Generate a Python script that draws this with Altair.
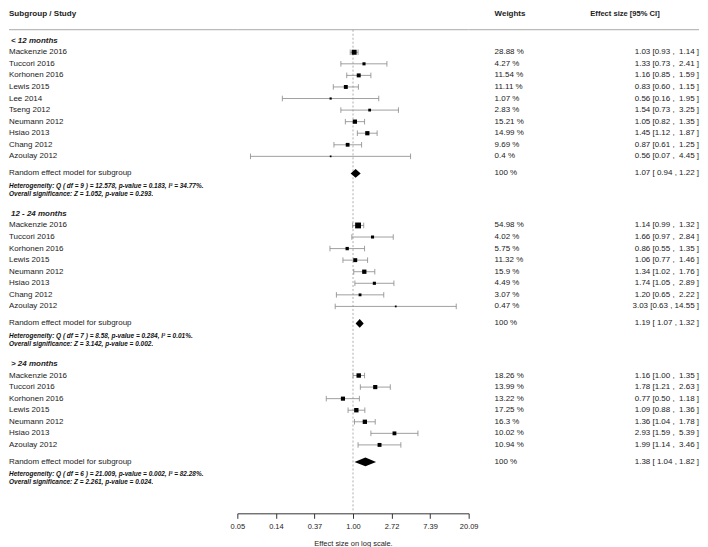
import math
import altair as alt
import pandas as pd

# ---------------- data ----------------
groups = ["< 12 months", "12 - 24 months", "> 24 months"]

studies_g1 = ["Mackenzie 2016", "Tuccori 2016", "Korhonen 2016", "Lewis 2015", "Lee 2014",
              "Tseng 2012", "Neumann 2012", "Hsiao 2013", "Chang 2012", "Azoulay 2012"]
est_g1 = [1.03, 1.33, 1.16, 0.83, 0.56, 1.54, 1.05, 1.45, 0.87, 0.56]
lo_g1 = [0.93, 0.73, 0.85, 0.60, 0.16, 0.73, 0.82, 1.12, 0.61, 0.07]
hi_g1 = [1.14, 2.41, 1.59, 1.15, 1.95, 3.25, 1.35, 1.87, 1.25, 4.45]
w_g1 = [28.88, 4.27, 11.54, 11.11, 1.07, 2.83, 15.21, 14.99, 9.69, 0.4]

studies_g2 = ["Mackenzie 2016", "Tuccori 2016", "Korhonen 2016", "Lewis 2015",
              "Neumann 2012", "Hsiao 2013", "Chang 2012", "Azoulay 2012"]
est_g2 = [1.14, 1.66, 0.86, 1.06, 1.34, 1.74, 1.20, 3.03]
lo_g2 = [0.99, 0.97, 0.55, 0.77, 1.02, 1.05, 0.65, 0.63]
hi_g2 = [1.32, 2.84, 1.35, 1.46, 1.76, 2.89, 2.22, 14.55]
w_g2 = [54.98, 4.02, 5.75, 11.32, 15.9, 4.49, 3.07, 0.47]

studies_g3 = ["Mackenzie 2016", "Tuccori 2016", "Korhonen 2016", "Lewis 2015",
              "Neumann 2012", "Hsiao 2013", "Azoulay 2012"]
est_g3 = [1.16, 1.78, 0.77, 1.09, 1.36, 2.93, 1.99]
lo_g3 = [1.00, 1.21, 0.50, 0.88, 1.04, 1.59, 1.14]
hi_g3 = [1.35, 2.63, 1.18, 1.36, 1.78, 5.39, 3.46]
w_g3 = [18.26, 13.99, 13.22, 17.25, 16.3, 10.02, 10.94]

re_est = [1.07, 1.19, 1.38]
re_lo = [0.94, 1.07, 1.04]
re_hi = [1.22, 1.32, 1.82]
re_label = "Random effect model for subgroup"
re_weight = "100 %"

het_text = [
    "Heterogeneity: Q ( df = 9 ) = 12.578, p-value = 0.183, I\u00b2 = 34.77%.",
    "Heterogeneity: Q ( df = 7 ) = 8.58, p-value = 0.284, I\u00b2 = 0.01%.",
    "Heterogeneity: Q ( df = 6 ) = 21.009, p-value = 0.002, I\u00b2 = 82.28%.",
]
sig_text = [
    "Overall significance: Z = 1.052, p-value = 0.293.",
    "Overall significance: Z = 3.142, p-value = 0.002.",
    "Overall significance: Z = 2.261, p-value = 0.024.",
]
tick_exponents = [-3, -2, -1, 0, 1, 2, 3]
col_headers = ["Subgroup / Study", "Weights", "Effect size [95% CI]"]
x_title = "Effect size on log scale."

# ---------------- layout ----------------
FONT = "Liberation Sans"
TXT = "#222222"
H = 506
W_LEFT, W_MID, W_RIGHT = 229, 232, 231
STEP, FIRST, GAP_RE, GAP_NEXT = 11.6, 11.6, 17.1, 40.6
HEADER_Y, LINE_Y, DASH_BOTTOM = 5, 21, 503
DIAMOND_HALF, CAP_HALF = 4.4, 2.8

all_groups = [
    (studies_g1, est_g1, lo_g1, hi_g1, w_g1),
    (studies_g2, est_g2, lo_g2, hi_g2, w_g2),
    (studies_g3, est_g3, lo_g3, hi_g3, w_g3),
]

NB = "\u00a0"


def fmt_study(e, l, h):
    hs = f"{h:.2f}"
    if len(hs) < 5:
        hs = NB + hs
    return f"{e:.2f} [{l:.2f} ,{NB}{hs} ]"


def fmt_re(e, l, h):
    return f"{e:.2f} [{NB}{l:.2f} , {h:.2f} ]"


study_rows, sub_rows, re_rows, het_rows, dia_rows = [], [], [], [], []
y = 32.0
for gi, (names, es, ls, hs, ws) in enumerate(all_groups):
    sub_rows.append({"label": groups[gi], "y": y})
    y += FIRST
    for n, e, l, h, w in zip(names, es, ls, hs, ws):
        study_rows.append({"study": n, "y": y, "est": e, "lo": l, "hi": h, "w": w,
                           "wlabel": f"{w:g} %", "eflabel": fmt_study(e, l, h)})
        y += STEP
    y = y - STEP + GAP_RE
    re_rows.append({"label": re_label, "y": y, "wlabel": re_weight,
                    "eflabel": fmt_re(re_est[gi], re_lo[gi], re_hi[gi])})
    het_rows.append({"label": het_text[gi], "y": y + 12.4})
    het_rows.append({"label": sig_text[gi], "y": y + 20.4})
    for xv, y1, y2 in [(re_lo[gi], y, y),
                       (re_est[gi], y - DIAMOND_HALF, y + DIAMOND_HALF),
                       (re_hi[gi], y, y)]:
        dia_rows.append({"g": groups[gi], "x": xv, "y1": y1, "y2": y2})
    y = y + GAP_NEXT

study_df = pd.DataFrame(study_rows)
sub_df = pd.DataFrame(sub_rows)
re_df = pd.DataFrame(re_rows)
het_df = pd.DataFrame(het_rows)
dia_df = pd.DataFrame(dia_rows)
frame_df = pd.DataFrame([{"hy": HEADER_Y, "ly": LINE_Y, "db": DASH_BOTTOM, "ref": 1.0}])

yscale = alt.Scale(domain=[0, H], reverse=True, zero=False, nice=False)
Y = lambda f: alt.Y(f, scale=yscale, axis=None)
xscale = alt.Scale(type="log", base=math.e, domain=[math.exp(-3), math.exp(3)], nice=False)
xaxis = alt.Axis(values=[math.exp(k) for k in tick_exponents], format=".2f",
                 title=x_title, grid=False, labelFont=FONT, titleFont=FONT,
                 labelFontSize=7.5, titleFontSize=7.5, titleFontWeight="normal",
                 labelColor=TXT, titleColor=TXT, domainColor="#333333",
                 tickColor="#333333", tickSize=5, labelPadding=4,
                 titlePadding=10, labelFlush=False)
X = lambda f: alt.X(f, scale=xscale, axis=xaxis)


def hline():
    return alt.Chart(frame_df).mark_rule(color="#aaaaaa", strokeWidth=1).encode(
        y=Y("ly:Q"))


# ---------------- left panel ----------------
left = alt.layer(
    hline(),
    alt.Chart(frame_df).mark_text(align="left", baseline="middle", font=FONT, fontSize=8.1,
                                  fontWeight="bold", color=TXT, text=col_headers[0]).encode(
        x=alt.value(0), y=Y("hy:Q")),
    alt.Chart(sub_df).mark_text(align="left", baseline="middle", font=FONT, fontSize=8,
                                fontWeight="bold", fontStyle="italic", color=TXT).encode(
        x=alt.value(2), y=Y("y:Q"), text="label:N"),
    alt.Chart(study_df).mark_text(align="left", baseline="middle", font=FONT, fontSize=8,
                                  color=TXT).encode(
        x=alt.value(0), y=Y("y:Q"), text="study:N"),
    alt.Chart(re_df).mark_text(align="left", baseline="middle", font=FONT, fontSize=8,
                               color=TXT).encode(
        x=alt.value(0), y=Y("y:Q"), text="label:N"),
    alt.Chart(het_df).mark_text(align="left", baseline="middle", font=FONT, fontSize=6.5,
                                fontWeight="bold", fontStyle="italic", color="#111111").encode(
        x=alt.value(0), y=Y("y:Q"), text="label:N"),
).properties(width=W_LEFT, height=H)

# ---------------- middle panel ----------------
mid = alt.layer(
    hline(),
    alt.Chart(frame_df).mark_rule(color="#999999", strokeDash=[2, 2], strokeWidth=0.8).encode(
        x=X("ref:Q"), y=Y("ly:Q"), y2="db:Q"),
    alt.Chart(study_df).mark_rule(color="#888888", strokeWidth=0.8).encode(
        x=X("lo:Q"), x2="hi:Q", y=Y("y:Q")),
    alt.Chart(study_df).transform_calculate(
        yt=f"datum.y - {CAP_HALF}", yb=f"datum.y + {CAP_HALF}").mark_rule(
        color="#888888", strokeWidth=0.8).encode(x=X("lo:Q"), y=Y("yt:Q"), y2="yb:Q"),
    alt.Chart(study_df).transform_calculate(
        yt=f"datum.y - {CAP_HALF}", yb=f"datum.y + {CAP_HALF}").mark_rule(
        color="#888888", strokeWidth=0.8).encode(x=X("hi:Q"), y=Y("yt:Q"), y2="yb:Q"),
    alt.Chart(study_df).mark_square(color="black", opacity=1, filled=True).encode(
        x=X("est:Q"), y=Y("y:Q"),
        size=alt.Size("w:Q", scale=alt.Scale(type="sqrt", domain=[0, 60], range=[0, 36]),
                      legend=None)),
    alt.Chart(dia_df).mark_area(color="black", opacity=1, orient="vertical").encode(
        x=X("x:Q"), y=Y("y1:Q"), y2="y2:Q", detail="g:N"),
).properties(width=W_MID, height=H)

# ---------------- right panel ----------------
right = alt.layer(
    hline(),
    alt.Chart(frame_df).mark_text(align="left", baseline="middle", font=FONT, fontSize=8,
                                  fontWeight="bold", color=TXT, text=col_headers[1]).encode(
        x=alt.value(26), y=Y("hy:Q")),
    alt.Chart(frame_df).mark_text(align="left", baseline="middle", font=FONT, fontSize=7.6,
                                  fontWeight="bold", color=TXT, text=col_headers[2]).encode(
        x=alt.value(122), y=Y("hy:Q")),
    alt.Chart(study_df).mark_text(align="left", baseline="middle", font=FONT, fontSize=8,
                                  color=TXT).encode(
        x=alt.value(26), y=Y("y:Q"), text="wlabel:N"),
    alt.Chart(study_df).mark_text(align="right", baseline="middle", font=FONT, fontSize=8,
                                  color=TXT).encode(
        x=alt.value(W_RIGHT), y=Y("y:Q"), text="eflabel:N"),
    alt.Chart(re_df).mark_text(align="left", baseline="middle", font=FONT, fontSize=8,
                               color=TXT).encode(
        x=alt.value(26), y=Y("y:Q"), text="wlabel:N"),
    alt.Chart(re_df).mark_text(align="right", baseline="middle", font=FONT, fontSize=8,
                               color=TXT).encode(
        x=alt.value(W_RIGHT), y=Y("y:Q"), text="eflabel:N"),
).properties(width=W_RIGHT, height=H)

chart = alt.hconcat(left, mid, right, spacing=0, bounds="flush").properties(
    padding={"left": 0, "top": 0, "right": 0, "bottom": 0}
).configure_view(stroke="transparent", strokeWidth=0)

chart.save("out.html", embed_options={"renderer": "svg", "actions": False})
